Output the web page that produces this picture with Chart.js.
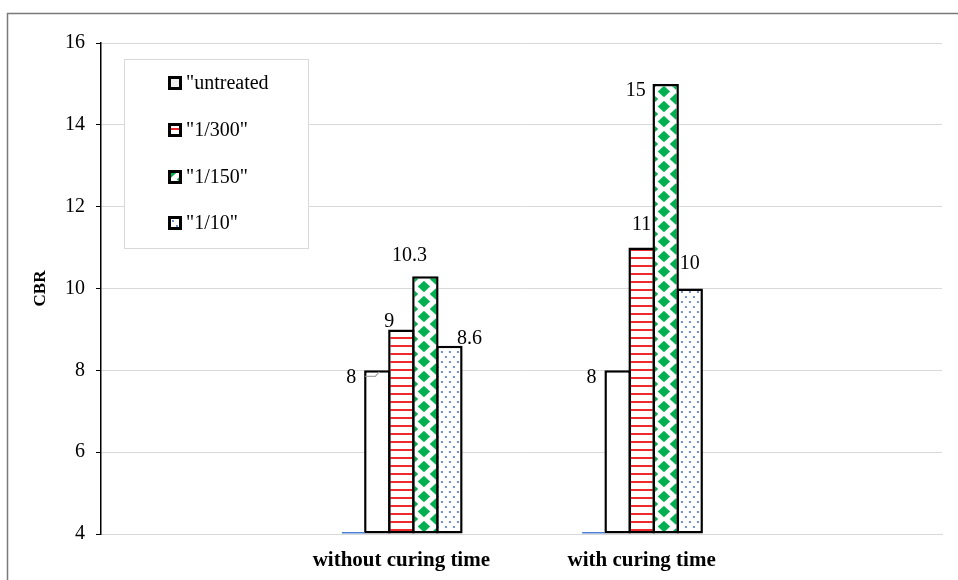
<!DOCTYPE html>
<html><head><meta charset="utf-8">
<script src="https://cdn.jsdelivr.net/npm/chart.js@4.4.1/dist/chart.umd.min.js"></script>
<style>html,body{margin:0;padding:0;background:#fff;}#wrap{width:958px;height:580px;position:relative;}</style>
</head><body><div id="wrap"><canvas id="c" width="958" height="580"></canvas></div>
<script>
// ---- data ----
const categories = ["", "", "without curing time", "", "with curing time", "", ""];
const seriesNames = ["", '"untreated', '"1/300"', '"1/150"', '"1/10"'];
const baseValues      = [null, null, 4,    null, 4,  null, null];
const untreatedValues = [null, null, 8,    null, 8,  null, null];
const r300Values      = [null, null, 9,    null, 11, null, null];
const r150Values      = [null, null, 10.3, null, 15, null, null];
const r10Values       = [null, null, 8.6,  null, 10, null, null];
const yTicks = [4, 6, 8, 10, 12, 14, 16];
const axisTitle = "CBR";

// ---- styles ----
const FONT = '"Liberation Serif", "Times New Roman", serif';
const canvas = document.getElementById('c');
const ctx = canvas.getContext('2d');
function makeTile(w, h, draw) { const c = document.createElement('canvas'); c.width = w; c.height = h; draw(c.getContext('2d'), w, h); return c; }
const stripePat = ctx.createPattern(makeTile(8, 8, (g, w, h) => {
  g.fillStyle = '#fff'; g.fillRect(0, 0, w, h); g.fillStyle = '#ee2a2d'; g.fillRect(0, 3, w, 2);
}), 'repeat');
const diamondPat = ctx.createPattern(makeTile(24, 15, (g, w, h) => {
  g.fillStyle = '#fff'; g.fillRect(0, 0, w, h); g.fillStyle = '#00b050';
  const dia = (cx, cy) => { g.beginPath(); g.moveTo(cx, cy - 5.8); g.lineTo(cx + 6.2, cy); g.lineTo(cx, cy + 5.8); g.lineTo(cx - 6.2, cy); g.closePath(); g.fill(); };
  dia(12, 7.5); dia(0, 0); dia(24, 0); dia(0, 15); dia(24, 15);
}), 'repeat');
const dotPat = ctx.createPattern(makeTile(8, 10, (g, w, h) => {
  g.fillStyle = '#fff'; g.fillRect(0, 0, w, h); g.fillStyle = '#6f8fd2';
  g.fillRect(1, 2, 2, 2); g.fillRect(5, 7, 2, 2);
}), 'repeat');
const patterns = [null, null, stripePat, diamondPat, dotPat];

// label offsets (dx, dy) relative to bar top centre, key = dataset-category
const labelOffsets = {
  "1-2": [-26, 7], "2-2": [-12, -8], "3-2": [-16, -20], "4-2": [20, -7],
  "1-4": [-26, 7], "2-4": [0, -23], "3-4": [-30, 7], "4-4": [0, -25]
};

const framePlugin = {
  id: 'frame',
  beforeDraw(chart) {
    const c = chart.ctx; c.save(); c.strokeStyle = '#7a7a7a'; c.lineWidth = 1.5;
    c.strokeRect(7.5, 13.5, 1200, 1200); c.restore();
  },
  beforeDatasetsDraw(chart) {
    chart.data.datasets.forEach((ds, i) => {
      const p = patterns[i]; if (!p) return;
      const meta = chart.getDatasetMeta(i);
      const el = meta.data.find(e => e && !isNaN(e.x) && e.width);
      if (el) p.setTransform(new DOMMatrix().translate(el.x - el.width / 2, chart.chartArea.bottom));
    });
  },
  afterDatasetsDraw(chart) {
    const c = chart.ctx; c.save();
    c.font = '20px ' + FONT; c.fillStyle = '#000'; c.textAlign = 'center'; c.textBaseline = 'middle';
    chart.data.datasets.forEach((ds, i) => {
      if (i === 0) return;
      const meta = chart.getDatasetMeta(i);
      ds.data.forEach((v, j) => {
        if (v === null) return;
        const el = meta.data[j]; const off = labelOffsets[i + '-' + j] || [0, -14];
        c.fillText(String(v), el.x + off[0], el.y + off[1]);
        if (i === 1 && j === 2) { // leader line
          c.save(); c.strokeStyle = '#a6a6a6'; c.lineWidth = 1.2; c.beginPath();
          c.moveTo(el.x - 12, el.y + 6); c.lineTo(el.x - 2, el.y + 6); c.lineTo(el.x + 2, el.y + 1.5); c.stroke(); c.restore();
        }
      });
    });
    c.restore();
  },
  afterDraw(chart) {
    const c = chart.ctx; c.save();
    const bx = 124, by = 59, bw = 184, bh = 189;
    c.fillStyle = '#fff'; c.fillRect(bx, by, bw, bh);
    c.strokeStyle = '#d9d9d9'; c.lineWidth = 1; c.strokeRect(bx + 0.5, by + 0.5, bw, bh);
    c.font = '20px ' + FONT; c.textBaseline = 'middle'; c.textAlign = 'left'; c.fillStyle = '#000';
    const ys = [83, 130, 177, 223];
    chart.data.datasets.slice(1).forEach((ds, k) => {
      const y = ys[k]; const mx = 168, my = y - 7;
      const p = patterns[k + 1];
      if (p) p.setTransform(new DOMMatrix().translate(mx + 3, my + 2));
      c.fillStyle = p || '#eeeeee'; c.fillRect(mx, my, 14, 14);
      c.strokeStyle = '#000'; c.lineWidth = 3; c.strokeRect(mx + 1.5, my + 1.5, 11, 11);
      c.fillStyle = '#000'; c.fillText(ds.label, 186, y + 1);
    });
    c.restore();
  }
};

const common = { base: yTicks[0], borderColor: '#000', borderWidth: 2.5, borderSkipped: false, categoryPercentage: 1.0, barPercentage: 1.1 };
new Chart(ctx, {
  type: 'bar',
  data: {
    labels: categories,
    datasets: [
      { label: seriesNames[0], data: baseValues, base: yTicks[0], backgroundColor: '#4a7fd4', borderWidth: 0, minBarLength: 2, categoryPercentage: 1.0, barPercentage: 0.95 },
      Object.assign({ label: seriesNames[1], data: untreatedValues, backgroundColor: '#fff' }, common),
      Object.assign({ label: seriesNames[2], data: r300Values, backgroundColor: stripePat }, common),
      Object.assign({ label: seriesNames[3], data: r150Values, backgroundColor: diamondPat }, common),
      Object.assign({ label: seriesNames[4], data: r10Values, backgroundColor: dotPat }, common)
    ]
  },
  options: {
    responsive: false, animation: false, devicePixelRatio: 1,
    layout: { padding: { top: 43, right: 16, left: 0, bottom: 0 } },
    plugins: { legend: { display: false }, tooltip: { enabled: false } },
    scales: {
      x: {
        ticks: { autoSkip: false, maxRotation: 0, minRotation: 0, color: '#000', font: { family: FONT, size: 21, weight: 'bold' }, padding: 14 },
        grid: { display: false, drawTicks: false },
        border: { color: '#d9d9d9', width: 1 },
        afterFit(s) { s.height = 46; }
      },
      y: {
        min: yTicks[0], max: yTicks[yTicks.length - 1],
        afterBuildTicks(s) { s.ticks = yTicks.map(v => ({ value: v })); },
        ticks: { color: '#000', font: { family: FONT, size: 20 }, padding: 11 },
        grid: { color: '#d9d9d9', tickColor: '#000', tickLength: 5, lineWidth: 1 },
        border: { color: '#000', width: 1.5 },
        title: { display: true, text: axisTitle, color: '#000', font: { family: FONT, size: 17, weight: 'bold' }, padding: { top: 30, bottom: 0 } },
        afterFit(s) { s.width = 101; }
      }
    }
  },
  plugins: [framePlugin]
});
</script></body></html>
